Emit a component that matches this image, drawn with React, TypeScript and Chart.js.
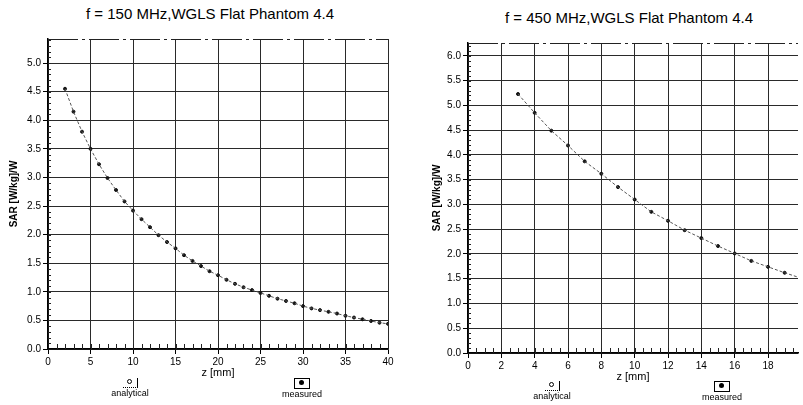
import { useEffect, useRef } from 'react'
import { Chart, registerables } from 'chart.js'

Chart.register(...registerables)

// 150 MHz panel: SAR along z
const z150 = [2, 3, 4, 5, 6, 7, 8, 9, 10, 11, 12, 13, 14, 15, 16, 17, 18, 19, 20, 21,
  22, 23, 24, 25, 26, 27, 28, 29, 30, 31, 32, 33, 34, 35, 36, 37, 38, 39, 40]
const sar150 = [4.55, 4.15, 3.8, 3.5, 3.23, 2.99, 2.78, 2.58, 2.42, 2.27, 2.13, 1.99, 1.87,
  1.76, 1.64, 1.54, 1.45, 1.36, 1.29, 1.21, 1.14, 1.08, 1.03, 0.98, 0.93, 0.88, 0.84, 0.8,
  0.75, 0.71, 0.68, 0.65, 0.62, 0.58, 0.55, 0.52, 0.49, 0.46, 0.44]
const xTicks150 = [0, 5, 10, 15, 20, 25, 30, 35, 40]
const yTicks150 = [0, 0.5, 1, 1.5, 2, 2.5, 3, 3.5, 4, 4.5, 5]

// 450 MHz panel
const z450 = [3, 4, 5, 6, 7, 8, 9, 10, 11, 12, 13, 14, 15, 16, 17, 18, 19, 20]
const sar450 = [5.23, 4.85, 4.49, 4.19, 3.87, 3.62, 3.35, 3.1, 2.85, 2.67, 2.48, 2.32, 2.16,
  2.01, 1.86, 1.74, 1.62, 1.51]
const xTicks450 = [0, 2, 4, 6, 8, 10, 12, 14, 16, 18]
const yTicks450 = [0, 0.5, 1, 1.5, 2, 2.5, 3, 3.5, 4, 4.5, 5, 5.5, 6]

const FONT = '"Liberation Sans", Arial, sans-serif'

// small inward ticks between the labelled ones, plus the top edge of the frame
const minorTicks = {
  id: 'minorTicks',
  afterDraw(chart: any, _args: any, opts: any) {
    const { ctx, chartArea } = chart
    const xs = chart.scales.x
    const ys = chart.scales.y
    ctx.save()
    ctx.strokeStyle = '#222'
    ctx.lineWidth = 1
    ctx.beginPath()
    const nx = Math.floor(xs.max / opts.xStep)
    for (let i = 1; i <= nx; i++) {
      const px = Math.round(xs.getPixelForValue(i * opts.xStep)) + 0.5
      ctx.moveTo(px, chartArea.bottom)
      ctx.lineTo(px, chartArea.bottom - 5)
    }
    const ny = Math.floor(ys.max / opts.yStep)
    for (let i = 1; i <= ny; i++) {
      const py = Math.round(ys.getPixelForValue(i * opts.yStep)) + 0.5
      ctx.moveTo(chartArea.left, py)
      ctx.lineTo(chartArea.left + 3, py)
    }
    ctx.stroke()
    ctx.setLineDash([30, 4, 3, 4])
    ctx.strokeStyle = '#222'
    ctx.beginPath()
    ctx.moveTo(chartArea.left, chartArea.top + 0.5)
    ctx.lineTo(chartArea.right, chartArea.top + 0.5)
    ctx.stroke()
    ctx.restore()
  },
}

interface PanelProps {
  z: number[]
  sar: number[]
  xTicks: number[]
  yTicks: number[]
  xMax: number
  yMax: number
  xMinor: number
  width: number
  padding: { left: number; right: number; top: number; bottom: number }
  yAxisWidth: number
  yTitlePad: number
  xTitlePad: number
}

const SarPanel = (p: PanelProps) => {
  const canvasRef = useRef<HTMLCanvasElement>(null)

  useEffect(() => {
    if (!canvasRef.current) return
    const pts = p.z.map((v, i) => ({ x: v, y: p.sar[i] }))
    const grid = {
      color: '#2a2a2a',
      lineWidth: 1,
      borderDash: [30, 4, 3, 4],
      tickLength: 5,
      tickColor: '#000',
    }
    const chart = new Chart(canvasRef.current, {
      type: 'scatter',
      data: {
        datasets: [
          {
            label: 'analytical',
            data: pts,
            showLine: true,
            borderColor: '#555',
            borderWidth: 1,
            borderDash: [3, 2],
            pointRadius: 0,
          },
          {
            label: 'measured',
            data: pts,
            backgroundColor: '#111',
            borderColor: '#111',
            pointRadius: 1.5,
          },
        ],
      },
      options: {
        animation: false,
        responsive: false,
        layout: { padding: p.padding },
        plugins: {
          legend: { display: false },
          tooltip: { enabled: false },
          minorTicks: { xStep: p.xMinor, yStep: 0.1 },
        } as any,
        scales: {
          x: {
            type: 'linear',
            min: 0,
            max: p.xMax,
            afterBuildTicks: (s: any) => { s.ticks = p.xTicks.map(v => ({ value: v })) },
            afterFit: (s: any) => { s.height = 35 },
            grid,
            border: { color: '#000', width: 1.5 },
            ticks: { color: '#000', padding: 2, font: { family: FONT, size: 10 } },
            title: {
              display: true,
              text: 'z [mm]',
              color: '#000',
              font: { family: FONT, size: 11 },
              padding: { top: 0, bottom: p.xTitlePad },
            },
          },
          y: {
            type: 'linear',
            min: 0,
            max: p.yMax,
            afterBuildTicks: (s: any) => { s.ticks = p.yTicks.map(v => ({ value: v })) },
            afterFit: (s: any) => { s.width = p.yAxisWidth },
            grid,
            border: { color: '#000', width: 1.5 },
            ticks: {
              color: '#000',
              padding: 2,
              font: { family: FONT, size: 10 },
              callback: (v: any) => Number(v).toFixed(1),
            },
            title: {
              display: true,
              text: 'SAR [W/kg]/W',
              color: '#000',
              font: { family: FONT, size: 10, weight: 'bold' },
              padding: { top: p.yTitlePad, bottom: 0 },
            },
          },
        },
      },
      plugins: [minorTicks],
    })
    return () => chart.destroy()
  }, [])

  return <canvas ref={canvasRef} width={p.width} height={405} style={{ display: 'block' }} />
}

const LegendItem = ({ left, top, label, filled }: { left: number; top: number; label: string; filled: boolean }) => (
  <div style={{ position: 'absolute', left: left - 30, top, width: 60, textAlign: 'center', fontFamily: FONT, fontSize: 9, lineHeight: '10px', color: '#000' }}>
    <div style={{
      width: 14,
      height: 9,
      margin: '0 auto',
      position: 'relative',
      borderRight: '1px solid #000',
      borderBottom: filled ? '1px solid #000' : '1px dotted #000',
      borderLeft: filled ? '1px solid #000' : 'none',
      borderTop: filled ? '1px solid #000' : 'none',
    }}>
      <div style={{
        position: 'absolute', left: 4, top: 1, width: 5, height: 5, borderRadius: '50%',
        background: filled ? '#000' : '#fff', border: filled ? 'none' : '1px solid #000', boxSizing: 'border-box',
      }} />
    </div>
    <div>{label}</div>
  </div>
)

const Title = ({ cx, top, text }: { cx: number; top: number; text: string }) => (
  <div style={{ position: 'absolute', left: cx - 150, top, width: 300, textAlign: 'center', fontFamily: FONT, fontSize: 15, lineHeight: '18px', color: '#000' }}>
    {text}
  </div>
)

export default function App() {
  return (
    <div style={{ position: 'fixed', left: 0, top: 0, width: 803, height: 405, background: '#fff', overflow: 'hidden' }}>
      <Title cx={210} top={5} text="f = 150 MHz,WGLS Flat Phantom 4.4" />
      <Title cx={629} top={9} text="f = 450 MHz,WGLS Flat Phantom 4.4" />
      <div style={{ position: 'absolute', left: 0, top: 0, width: 400, height: 405 }}>
        <SarPanel z={z150} sar={sar150} xTicks={xTicks150} yTicks={yTicks150} xMax={40} yMax={5.42}
          xMinor={1} width={400} padding={{ left: 0, right: 12, top: 39, bottom: 21 }} yAxisWidth={48} yTitlePad={8} xTitlePad={4} />
      </div>
      <div style={{ position: 'absolute', left: 400, top: 0, width: 403, height: 405 }}>
        <SarPanel z={z450} sar={sar450} xTicks={xTicks450} yTicks={yTicks450} xMax={19.8} yMax={6.26}
          xMinor={0.5} width={403} padding={{ left: 30, right: 0, top: 43, bottom: 17 }} yAxisWidth={38} yTitlePad={1} xTitlePad={4} />
      </div>
      <LegendItem left={130} top={378} label="analytical" filled={false} />
      <LegendItem left={302} top={378} label="measured" filled={true} />
      <LegendItem left={552} top={381} label="analytical" filled={false} />
      <LegendItem left={722} top={381} label="measured" filled={true} />
    </div>
  )
}
